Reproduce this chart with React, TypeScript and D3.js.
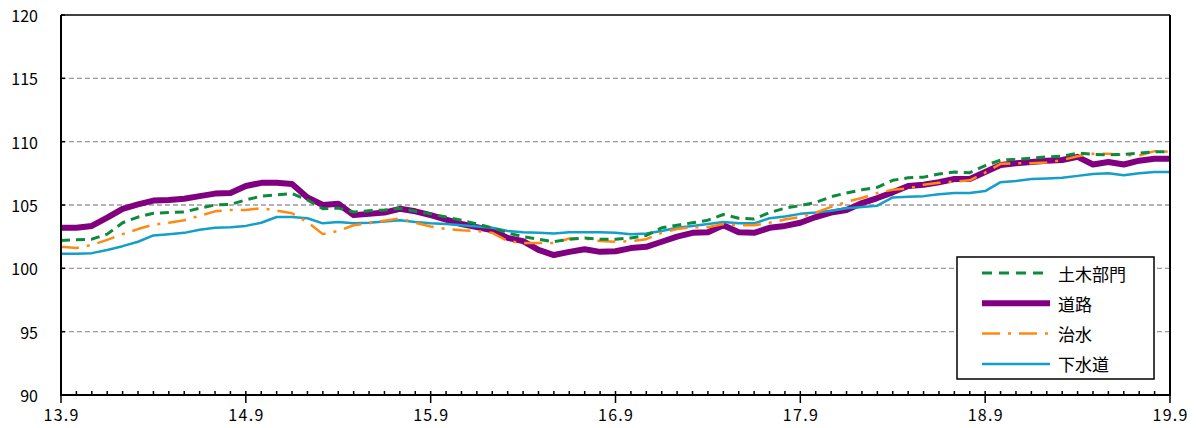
import React from "react";
import * as d3 from "d3";

const yearLabels = ["13.9", "14.9", "15.9", "16.9", "17.9", "18.9", "19.9"];
const yTicks = [90, 95, 100, 105, 110, 115, 120];

const doboku = [
  102.2, 102.25, 102.3, 102.7, 103.6, 104.05, 104.35, 104.4, 104.45, 104.75, 105.0, 105.05,
  105.4, 105.7, 105.8, 105.9, 105.4, 104.7, 104.75, 104.45, 104.55, 104.6, 104.75, 104.5,
  104.3, 104.05, 103.8, 103.5, 103.2, 102.8, 102.5, 102.3, 102.1, 102.3, 102.4, 102.3,
  102.3, 102.4, 102.6, 103.2, 103.4, 103.6, 103.8, 104.25, 103.95, 103.9, 104.4, 104.75,
  104.95, 105.2, 105.65, 105.95, 106.2, 106.4, 106.95, 107.15, 107.2, 107.45, 107.6, 107.55,
  108.1, 108.55, 108.6, 108.7, 108.8, 108.85, 109.1, 109.0, 108.95, 109.0, 109.1, 109.2, 109.2,
];

const douro = [
  103.2, 103.2, 103.35, 104.0, 104.7, 105.05, 105.35, 105.4, 105.5, 105.7, 105.9, 105.95,
  106.5, 106.75, 106.75, 106.65, 105.6, 105.0, 105.1, 104.2, 104.3, 104.4, 104.7, 104.5,
  104.2, 103.85, 103.5, 103.25, 103.0, 102.4, 102.15, 101.45, 101.05, 101.3, 101.5, 101.3,
  101.35, 101.6, 101.7, 102.1, 102.5, 102.8, 102.85, 103.4, 102.85, 102.8, 103.2, 103.35,
  103.6, 104.05, 104.4, 104.6, 105.15, 105.55, 106.0, 106.5, 106.6, 106.8, 107.05, 107.05,
  107.6, 108.15, 108.3, 108.4, 108.5, 108.55, 108.8, 108.2, 108.4, 108.2, 108.5, 108.65, 108.65,
];

const chisui = [
  101.7, 101.6, 101.85, 102.25, 102.7, 103.1, 103.45, 103.6, 103.8, 104.15, 104.5, 104.6,
  104.6, 104.75, 104.55, 104.35, 103.65, 102.7, 102.95, 103.4, 103.55, 103.75, 103.95, 103.6,
  103.3, 103.1, 103.0, 102.95, 102.8, 102.15, 102.0, 102.0, 102.0, 102.35, 102.35, 102.15,
  102.1, 102.15, 102.3, 102.8, 103.1, 103.25, 103.25, 103.5, 103.4, 103.4, 103.6, 103.85,
  104.05, 104.4, 104.85, 105.25, 105.55, 105.95, 106.2, 106.3, 106.6, 106.75, 106.85, 106.95,
  107.55, 108.25, 108.3, 108.3, 108.35, 108.55, 108.85, 109.05, 109.05, 108.95, 108.9, 109.25, 109.2,
];

const gesuido = [
  101.15, 101.15, 101.2, 101.45, 101.75, 102.1, 102.6, 102.7, 102.8, 103.05, 103.2, 103.25,
  103.35, 103.6, 104.05, 104.05, 103.95, 103.55, 103.65, 103.55, 103.6, 103.7, 103.8, 103.65,
  103.55, 103.5, 103.4, 103.3, 103.2, 102.95, 102.85, 102.8, 102.75, 102.85, 102.85, 102.85,
  102.8, 102.7, 102.75, 102.95, 103.2, 103.35, 103.5, 103.65, 103.55, 103.55, 103.95, 104.1,
  104.3, 104.4, 104.55, 104.75, 104.85, 104.95, 105.6, 105.65, 105.7, 105.85, 105.95, 105.95,
  106.1, 106.8, 106.9, 107.05, 107.1, 107.15, 107.3, 107.45, 107.5, 107.35, 107.5, 107.6, 107.6,
];

const seriesNames = ["土木部門", "道路", "治水", "下水道"];

const W = 1196;
const H = 428;
const L = 61;
const R = 1170;
const T = 15;
const B = 395;

const JP = "'Noto Sans CJK JP', 'Noto Sans', sans-serif";

export default function App() {
  const months = doboku.length - 1;
  const x = d3.scaleLinear().domain([0, months]).range([L, R]);
  const y = d3.scaleLinear().domain([90, 120]).range([B, T]);
  const line = d3
    .line<number>()
    .x((_, i) => x(i))
    .y((d) => y(d))
    .curve(d3.curveLinear);

  const styles: Record<string, { color: string; width: number; dash?: string }> = {
    土木部門: { color: "#0f8a3c", width: 3, dash: "9,6" },
    道路: { color: "#800080", width: 6 },
    治水: { color: "#ff8a12", width: 2.5, dash: "18,8,3,8" },
    下水道: { color: "#139fc8", width: 2.5 },
  };
  const dataMap: Record<string, number[]> = {
    土木部門: doboku,
    道路: douro,
    治水: chisui,
    下水道: gesuido,
  };
  const drawOrder = ["道路", "下水道", "治水", "土木部門"];

  const monthTicks = d3.range(0, months + 1);

  const legX = 957;
  const legY = 257;
  const legW = 197;
  const legH = 122;

  return (
    <svg
      width={W}
      height={H}
      style={{ position: "absolute", left: 0, top: 0, background: "#fff" }}
    >
      <rect x={0} y={0} width={W} height={H} fill="#fff" />
      {/* grid */}
      {yTicks
        .filter((t) => t > 90 && t < 120)
        .map((t) => (
          <line
            key={"g" + t}
            x1={L}
            x2={R}
            y1={y(t)}
            y2={y(t)}
            stroke="#9a9a9a"
            strokeWidth={1.3}
            strokeDasharray="5,3"
          />
        ))}
      {/* series */}
      {drawOrder.map((name) => {
        const s = styles[name];
        return (
          <path
            key={name}
            d={line(dataMap[name]) || ""}
            fill="none"
            stroke={s.color}
            strokeWidth={s.width}
            strokeDasharray={s.dash}
            strokeLinejoin="round"
          />
        );
      })}
      {/* frame */}
      <line x1={L} x2={R} y1={T} y2={T} stroke="#000" strokeWidth={1.5} />
      <line x1={R} x2={R} y1={T} y2={B} stroke="#000" strokeWidth={2} />
      <line x1={L} x2={L} y1={T} y2={B + 1} stroke="#000" strokeWidth={2} />
      <line x1={L - 1} x2={R + 1} y1={B} y2={B} stroke="#000" strokeWidth={2} />
      {/* y ticks */}
      {yTicks.map((t) => (
        <g key={"yt" + t}>
          <line x1={L} x2={L + 4} y1={y(t)} y2={y(t)} stroke="#000" strokeWidth={1.5} />
          <text
            x={38}
            y={y(t)}
            textAnchor="end"
            dominantBaseline="central"
            fontFamily={JP}
            fontSize={16}
            fill="#000"
          >
            {t}
          </text>
        </g>
      ))}
      {/* x ticks */}
      {monthTicks.map((m) => (
        <line
          key={"xt" + m}
          x1={x(m)}
          x2={x(m)}
          y1={m % 12 === 0 ? B + 8 : B}
          y2={B - 4}
          stroke="#000"
          strokeWidth={1.5}
        />
      ))}
      {yearLabels.map((lab, i) => (
        <text
          key={"xl" + lab}
          x={x(i * 12)}
          y={421}
          textAnchor="middle"
          fontFamily={JP}
          fontSize={16}
          textLength={35}
          lengthAdjust="spacing"
          fill="#000"
        >
          {lab}
        </text>
      ))}
      {/* legend */}
      <rect
        x={legX}
        y={legY}
        width={legW}
        height={legH}
        fill="#fff"
        stroke="#000"
        strokeWidth={1.5}
      />
      {seriesNames.map((name, i) => {
        const s = styles[name];
        const cy = legY + 16 + i * 30.3;
        return (
          <g key={"leg" + name}>
            <line
              x1={982}
              x2={1050}
              y1={cy}
              y2={cy}
              stroke={s.color}
              strokeWidth={s.width}
              strokeDasharray={name === "土木部門" ? "10,7" : s.dash}
            />
            <text
              x={1058}
              y={cy}
              dominantBaseline="central"
              fontFamily={JP}
              fontSize={17}
              fill="#000"
            >
              {name}
            </text>
          </g>
        );
      })}
    </svg>
  );
}
